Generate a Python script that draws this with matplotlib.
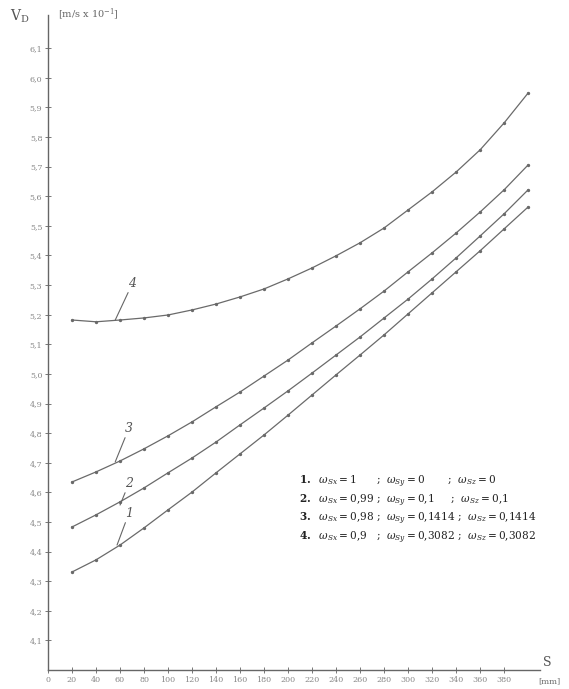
import matplotlib.pyplot as plt

# S [mm] - measurement points
s_mm = [20, 40, 60, 80, 100, 120, 140, 160, 180, 200,
        220, 240, 260, 280, 300, 320, 340, 360, 380, 400]

# V_D values, curves 1..4
vd_1 = [4.331, 4.372, 4.422, 4.480, 4.541, 4.601, 4.666, 4.730, 4.794, 4.861,
        4.929, 4.997, 5.064, 5.132, 5.203, 5.274, 5.345, 5.416, 5.490, 5.564]
vd_2 = [4.483, 4.524, 4.568, 4.615, 4.666, 4.716, 4.770, 4.828, 4.885, 4.943,
        5.003, 5.064, 5.125, 5.189, 5.253, 5.321, 5.392, 5.466, 5.541, 5.622]
vd_3 = [4.635, 4.669, 4.706, 4.747, 4.791, 4.838, 4.889, 4.939, 4.993, 5.047,
        5.105, 5.162, 5.220, 5.280, 5.345, 5.409, 5.476, 5.547, 5.622, 5.706]
vd_4 = [5.182, 5.176, 5.182, 5.189, 5.199, 5.216, 5.236, 5.260, 5.287, 5.321,
        5.358, 5.399, 5.443, 5.493, 5.554, 5.615, 5.682, 5.757, 5.848, 5.949]

x_ticks = [0, 20, 40, 60, 80, 100, 120, 140, 160, 180, 200,
           220, 240, 260, 280, 300, 320, 340, 360, 380]
x_labels = [str(v) for v in x_ticks]
y_ticks = [4.1 + 0.1 * i for i in range(21)]
y_labels = ['%.1f' % v for v in y_ticks]
y_labels = [s.replace('.', ',') for s in y_labels]

legend_rows = [
    r"$\mathbf{1.}$  $\omega_{Sx}=1$      ;  $\omega_{Sy}=0$       ;  $\omega_{Sz}=0$",
    r"$\mathbf{2.}$  $\omega_{Sx}=0{,}99$ ;  $\omega_{Sy}=0{,}1$     ;  $\omega_{Sz}=0{,}1$",
    r"$\mathbf{3.}$  $\omega_{Sx}=0{,}98$ ;  $\omega_{Sy}=0{,}1414$ ;  $\omega_{Sz}=0{,}1414$",
    r"$\mathbf{4.}$  $\omega_{Sx}=0{,}9$   ;  $\omega_{Sy}=0{,}3082$ ;  $\omega_{Sz}=0{,}3082$",
]

plt.rcParams['font.family'] = ['DejaVu Serif']
plt.rcParams['mathtext.fontset'] = 'dejavuserif'

fig = plt.figure(figsize=(5.69, 6.89), dpi=100)
ax = fig.add_axes([0.0844, 0.0276, 0.865, 0.951])

line_c = '#6a6a6a'
for vd in (vd_1, vd_2, vd_3, vd_4):
    ax.plot(s_mm, vd, color=line_c, lw=0.9, marker='o', ms=1.4,
            mfc=line_c, mec=line_c)

ax.set_xlim(0, 410)
ax.set_ylim(4.0, 6.213)
ax.set_xticks(x_ticks)
ax.set_xticklabels(x_labels)
ax.set_yticks(y_ticks)
ax.set_yticklabels(y_labels)
ax.tick_params(direction='inout', length=4, width=0.7, colors='#777777',
               labelsize=5.8, labelcolor='#888888', pad=2)

for side in ('top', 'right'):
    ax.spines[side].set_visible(False)
for side in ('left', 'bottom'):
    ax.spines[side].set_color('#666666')
    ax.spines[side].set_linewidth(1.0)

# curve numbers with leader strokes
marks = [('1', (64, 4.507), (57.5, 4.422)),
         ('2', (64, 4.608), (60, 4.557)),
         ('3', (64, 4.794), (56, 4.703)),
         ('4', (67, 5.284), (56, 5.182))]
for txt, tpos, ppos in marks:
    ax.annotate(txt, xy=ppos, xytext=tpos, fontsize=9, style='italic',
                color='#555555', ha='left', va='bottom',
                arrowprops=dict(arrowstyle='-', color='#666666', lw=0.8,
                                shrinkA=0, shrinkB=0))

# legend block
for i, row in enumerate(legend_rows):
    fig.text(0.525, 1 - (482 + 18.5 * i) / 689, row, fontsize=7.6,
             color='#222222', va='center', ha='left')

# axis titles
fig.text(10 / 569, 1 - 16 / 689, r"$\mathrm{V_D}$", fontsize=10,
         color='#555555', va='center')
fig.text(58 / 569, 1 - 15 / 689, r"[m/s x 10$^{-1}$]", fontsize=7,
         color='#666666', va='center')
fig.text(547 / 569, 1 - 662 / 689, "S", fontsize=9, color='#555555',
         va='center', ha='center')
fig.text(549 / 569, 1 - 681 / 689, "[mm]", fontsize=6, color='#666666',
         va='center', ha='center')

fig.savefig('out.png', dpi=100)
